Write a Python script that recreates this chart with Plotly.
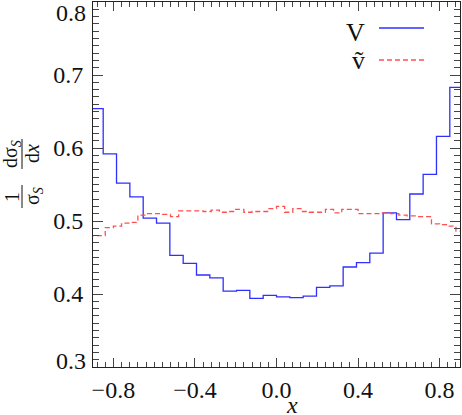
import numpy as np
import plotly.graph_objects as go

# V distribution, 28 bins (outer two only partly visible)
V_EDGES = np.linspace(-0.85 - 1.7 / 26, 0.85 + 1.7 / 26, 29)
V_VALUES = [0.654, 0.592, 0.552, 0.533, 0.504, 0.497, 0.453, 0.442, 0.426, 0.422,
            0.404, 0.405, 0.394, 0.398, 0.396, 0.395, 0.397, 0.409, 0.411, 0.437,
            0.443, 0.456, 0.511, 0.502, 0.537, 0.564, 0.616, 0.683]

# v-tilde distribution, finer bins of 0.04
NU_EDGES = np.linspace(-0.92, 0.92, 47)
NU_VALUES = [0.480, 0.480, 0.491, 0.493, 0.497, 0.498, 0.508, 0.510, 0.510, 0.509,
             0.506, 0.514, 0.514, 0.514, 0.513, 0.515, 0.512, 0.513, 0.516, 0.512,
             0.513, 0.513, 0.517, 0.520, 0.512, 0.517, 0.513, 0.512, 0.512, 0.516,
             0.511, 0.516, 0.516, 0.510, 0.510, 0.510, 0.511, 0.510, 0.508, 0.507,
             0.506, 0.506, 0.496, 0.495, 0.493, 0.486]

X_LABELS = [-0.8, -0.4, 0.0, 0.4, 0.8]
X_LABELTEXT = ["\u22120.8", "\u22120.4", "0.0", "0.4", "0.8"]
X_MAJOR = [-0.8, -0.6, -0.4, -0.2, 0.0, 0.2, 0.4, 0.6, 0.8]
Y_LABELS = [0.4, 0.5, 0.6, 0.7]

BLUE = "#2f2fff"
RED = "#ff5050"
FONT = "Liberation Serif, Times New Roman, serif"

W, H = 462, 415
L, R, T, B = 93, 2, 2, 48


def px(x):
    return (x - L) / (W - L - R)


def py(y):
    return (H - B - y) / (H - T - B)


fig = go.Figure()
fig.add_trace(go.Scatter(x=V_EDGES, y=V_VALUES + [V_VALUES[-1]], mode="lines",
                         line=dict(color=BLUE, width=1.3, shape="hv"), name="V"))
fig.add_trace(go.Scatter(x=NU_EDGES, y=NU_VALUES + [NU_VALUES[-1]], mode="lines",
                         line=dict(color=RED, width=1.3, shape="hv", dash="5px,3px"),
                         name="\u1e7d"))

tickfont = dict(family=FONT, size=24, color="#111")
axis_common = dict(showline=True, linecolor="#222", linewidth=1, mirror="ticks",
                   ticks="inside", tickcolor="#444", showgrid=False, zeroline=False,
                   tickfont=tickfont)

fig.update_layout(
    xaxis=dict(range=[-0.9, 0.9], tickvals=X_LABELS, ticktext=X_LABELTEXT, ticklen=9,
               ticklabelstandoff=1,
               minor=dict(dtick=0.04, tick0=0, ticklen=5, ticks="inside", tickcolor="#444"),
               **axis_common),
    # extra long ticks every 0.2 without labels
    xaxis2=dict(range=[-0.9, 0.9], overlaying="x", matches="x", anchor="y", side="bottom",
                tickvals=X_MAJOR, ticklen=9, ticks="inside", tickcolor="#444", mirror="ticks",
                showline=False, showticklabels=False, showgrid=False, zeroline=False),
    yaxis=dict(range=[0.3, 0.8], tickvals=Y_LABELS, ticklen=10, ticklabelstandoff=4,
               minor=dict(dtick=0.01, tick0=0, ticklen=6, ticks="inside", tickcolor="#444"),
               **axis_common),
)

ann = []
# shifted end labels of the y axis
ann.append(dict(x=px(88), y=py(13), text="0.8", xanchor="right", yanchor="middle"))
ann.append(dict(x=px(88), y=py(361), text="0.3", xanchor="right", yanchor="middle"))
# x axis title
ann.append(dict(x=px(292), y=py(405), text="<i>x</i>", xanchor="center", yanchor="middle"))
# legend text
ann.append(dict(x=px(355), y=py(33), text="V", xanchor="center", yanchor="middle",
                font=dict(family=FONT, size=26, color="#111")))
ann.append(dict(x=px(358), y=py(60), text="\u1e7d", xanchor="center", yanchor="middle",
                font=dict(family=FONT, size=26, color="#111")))
# y axis title as two stacked fractions, rotated
for txt, x, y in [("d\u03c3<sub><i>S</i></sub>", 12, 154), ("d<i>x</i>", 32, 153),
                  ("1", 12, 197), ("\u03c3<sub><i>S</i></sub>", 33, 196)]:
    ann.append(dict(x=px(x), y=py(y), text=txt, textangle=-90, xanchor="center",
                    yanchor="middle", font=dict(family=FONT, size=20, color="#111")))

for a in ann:
    a.setdefault("font", tickfont)
    a.update(xref="paper", yref="paper", showarrow=False)

shapes = [
    dict(type="line", xref="paper", yref="paper", x0=px(22), x1=px(22), y0=py(139), y1=py(169),
         line=dict(color="#111", width=1)),
    dict(type="line", xref="paper", yref="paper", x0=px(22), x1=px(22), y0=py(185), y1=py(208),
         line=dict(color="#111", width=1)),
    dict(type="line", xref="paper", yref="paper", x0=px(379), x1=px(424), y0=py(28), y1=py(28),
         line=dict(color=BLUE, width=1.3)),
    dict(type="line", xref="paper", yref="paper", x0=px(379), x1=px(424), y0=py(60), y1=py(60),
         line=dict(color=RED, width=1.3, dash="5px,3px")),
]

fig.update_layout(
    width=W, height=H,
    margin=dict(l=L, r=R, t=T, b=B, autoexpand=False),
    paper_bgcolor="white", plot_bgcolor="white",
    showlegend=False,
    font=dict(family=FONT, size=24, color="#111"),
    annotations=ann, shapes=shapes,
)

# the page has a default body margin; drop it so the figure sits at the window corner
fig.write_html("out.html", config={"displayModeBar": False},
               post_script="document.body.style.margin='0px';")
